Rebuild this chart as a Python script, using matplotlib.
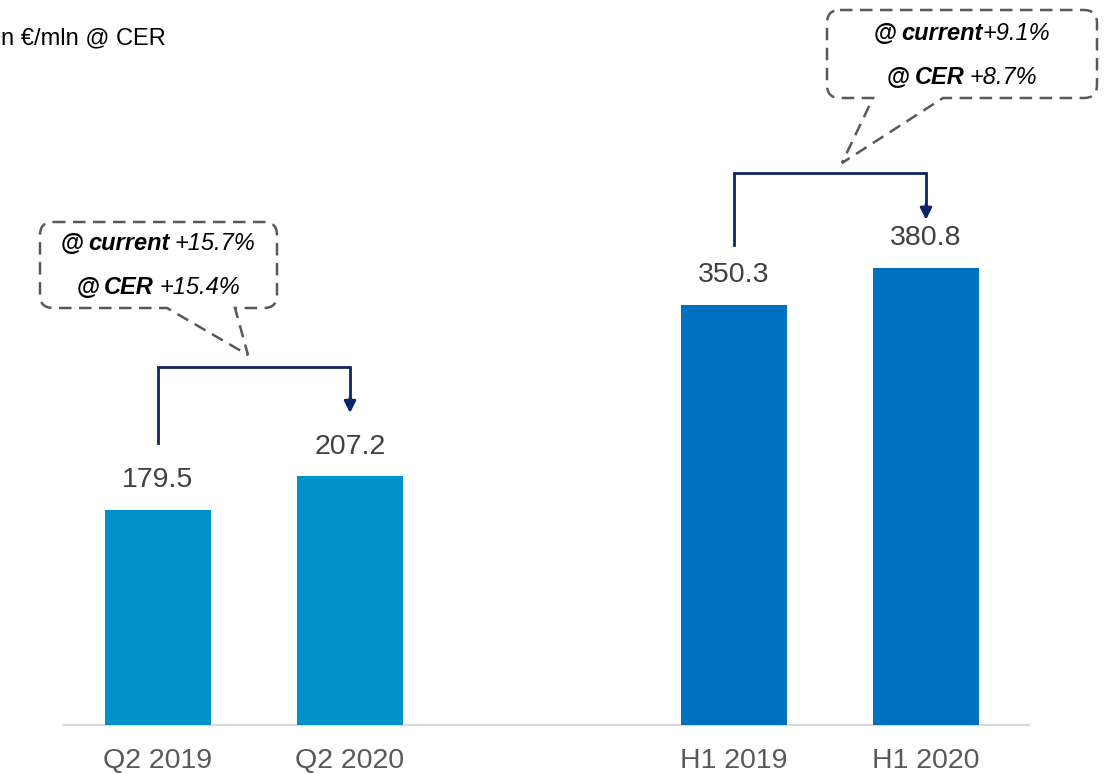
import matplotlib.pyplot as plt
from matplotlib.path import Path
from matplotlib.patches import PathPatch

plt.rcParams['font.family'] = ['Liberation Sans', 'DejaVu Sans']

# data
categories = ['Q2 2019', 'Q2 2020', 'H1 2019', 'H1 2020']
values = [179.5, 207.2, 350.3, 380.8]
positions = [0, 1, 3, 4]
bar_colors = ['#0091C8', '#0091C8', '#0070C0', '#0070C0']
unit_label = 'n €/mln @ CER'

# growth callouts: (current, CER)
q2_growth = ('+15.7%', '+15.4%')
h1_growth = ('+9.1%', '+8.7%')

W, H = 1106, 774
fig = plt.figure(figsize=(W / 100, H / 100), dpi=100)

# main bar axes, scaled so that one unit = 1.2 px and baseline sits at y=725px
ax = fig.add_axes([0, 0, 1, 1])
ax.set_xlim(-158 / 192, (W - 158) / 192)
ax.set_ylim(-49 / 1.2, 725 / 1.2)
ax.axis('off')

ax.bar(positions, values, width=0.55, color=bar_colors, zorder=2)
ax.plot([-95 / 192, (1030 - 158) / 192], [0, 0], color='#D9D9D9', lw=1.6, zorder=1,
        solid_capstyle='butt')

for x, v, c in zip(positions, values, categories):
    ax.text(x, v + 14, f'{v:.1f}', ha='center', va='bottom', fontsize=20.5, color='#404040')
    ax.text(x, -19, c, ha='center', va='top', fontsize=20.5, color='#595959')

navy = '#0D2466'


def bracket(x0, x1, y_start, y_top, y_tip):
    ax.plot([x0, x0, x1, x1], [y_start, y_top, y_top, y_tip + 12], color=navy, lw=2,
            solid_joinstyle='miter', zorder=3)
    ax.annotate('', xy=(x1, y_tip), xytext=(x1, y_tip + 13),
                arrowprops=dict(arrowstyle='-|>,head_length=0.7,head_width=0.35',
                                color=navy, lw=2, shrinkA=0, shrinkB=0))


bracket(0, 1, 235, 298, 260)
bracket(3, 4, 400, 460, 421)

# overlay in pixel coordinates for callouts
ov = fig.add_axes([0, 0, 1, 1])
ov.set_xlim(0, W)
ov.set_ylim(H, 0)
ov.axis('off')
ov.patch.set_alpha(0)


def callout(x0, y0, x1, y1, a, b, tip, r=13):
    verts = [(x0 + r, y0), (x1 - r, y0), (x1, y0), (x1, y0 + r), (x1, y1 - r), (x1, y1),
             (x1 - r, y1), (b, y1), tip, (a, y1), (x0 + r, y1), (x0, y1), (x0, y1 - r),
             (x0, y0 + r), (x0, y0), (x0 + r, y0)]
    codes = [Path.MOVETO, Path.LINETO, Path.CURVE3, Path.CURVE3, Path.LINETO, Path.CURVE3,
             Path.CURVE3, Path.LINETO, Path.LINETO, Path.LINETO, Path.LINETO, Path.CURVE3,
             Path.CURVE3, Path.LINETO, Path.CURVE3, Path.CURVE3]
    ov.add_patch(PathPatch(Path(verts, codes), facecolor='none', edgecolor='#595959',
                           lw=1.8, linestyle=(0, (5, 3))))


callout(40, 222, 277, 308, 167, 235, (248, 355))
callout(827, 10, 1097, 98, 873, 943, (842, 163))

fs = 17
renderer = fig.canvas.get_renderer()


def rich_line(cx, cy, pieces):
    texts = []
    for s, weight, style, gap in pieces:
        t = ov.text(0, cy, s, fontsize=fs, fontweight=weight, fontstyle=style,
                    color='black', va='center', ha='left')
        texts.append((t, gap))
    widths = [t.get_window_extent(renderer).width for t, _ in texts]
    total = sum(widths) + sum(g for _, g in texts)
    x = cx - total / 2
    for (t, g), w in zip(texts, widths):
        t.set_x(x)
        x += w + g


sp = 5
rich_line(158, 243, [('@', 'bold', 'normal', sp), ('current', 'bold', 'italic', sp),
                     (q2_growth[0], 'normal', 'italic', 0)])
rich_line(158, 287, [('@', 'bold', 'normal', sp), ('CER', 'bold', 'italic', sp),
                     (q2_growth[1], 'normal', 'italic', 0)])
rich_line(962, 33, [('@', 'bold', 'normal', sp), ('current', 'bold', 'italic', 0),
                    (h1_growth[0], 'normal', 'italic', 0)])
rich_line(962, 78, [('@', 'bold', 'normal', sp), ('CER', 'bold', 'italic', sp),
                    (h1_growth[1], 'normal', 'italic', 0)])

fig.text(1 / W, 1 - 38 / H, unit_label, fontsize=17, color='black', va='center', ha='left')

fig.savefig('out.png', dpi=100)
